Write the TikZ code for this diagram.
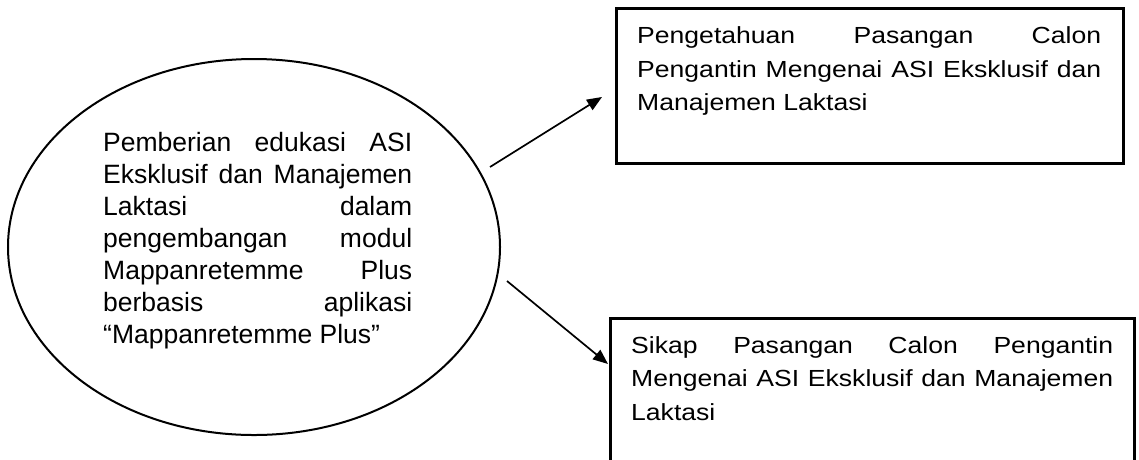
\documentclass[tikz,border=0pt]{standalone}
\usepackage{fontspec}
\setmainfont{Liberation Sans}
\newfontfamily\boxfont[FakeStretch=1.14]{Liberation Sans}
\usetikzlibrary{arrows.meta,shapes.geometric}
\newcommand{\jline}[1]{\hbox to \linewidth{\spaceskip=\fontdimen2\font plus 1fil\relax #1}}
\tikzset{
  ell/.style={draw=black, line width=2pt, ellipse, inner sep=0pt},
  bx/.style={draw=black, line width=2.7pt, rectangle, inner sep=0pt},
  etext/.style={inner sep=0pt, font=\fontsize{26.5}{32}\selectfont, text=black},
  btext/.style={inner sep=0pt, font=\boxfont\fontsize{23.3}{33.5}\selectfont, text=black},
  arr/.style={line width=1.7pt, -{Triangle[length=15pt,width=12pt]}}
}
\begin{document}
\begin{tikzpicture}[x=1pt,y=-1pt]
\useasboundingbox (0,0) rectangle (1139,459);
\fill[white] (0,0) rectangle (1139,459);
\clip (0,0) rectangle (1139,459);
% ellipse
\node[ell, minimum width=492pt, minimum height=376pt] (e) at (254,247) {};
\node[etext, anchor=base west] (et) at (103,151) {\parbox[t]{309pt}{%
\jline{Pemberian edukasi ASI}%
\jline{Eksklusif dan Manajemen}%
\jline{Laktasi dalam}%
\jline{pengembangan modul}%
\jline{Mappanretemme Plus}%
\jline{berbasis aplikasi}%
\hbox{“Mappanretemme Plus”}}};
% top box
\node[bx, minimum width=507pt, minimum height=155pt, anchor=north west] (k1) at (615,7) {};
\node[btext, anchor=base west] (k1t) at (637,43.5) {\parbox[t]{464pt}{%
\jline{Pengetahuan Pasangan Calon}%
\jline{Pengantin Mengenai ASI Eksklusif dan}%
\hbox{Manajemen Laktasi}}};
% bottom box
\node[bx, minimum width=524pt, minimum height=200pt, anchor=north west] (k2) at (609,317) {};
\node[btext, anchor=base west] (k2t) at (631,353) {\parbox[t]{482pt}{%
\jline{Sikap Pasangan Calon Pengantin}%
\jline{Mengenai ASI Eksklusif dan Manajemen}%
\hbox{Laktasi}}};
% arrows
\coordinate (s1) at (490,167);
\coordinate (t1) at (602,97);
\coordinate (s2) at (507,281);
\coordinate (t2) at (608,364);
\draw[arr] (s1) -- (t1);
\draw[arr] (s2) -- (t2);
\end{tikzpicture}
\end{document}
